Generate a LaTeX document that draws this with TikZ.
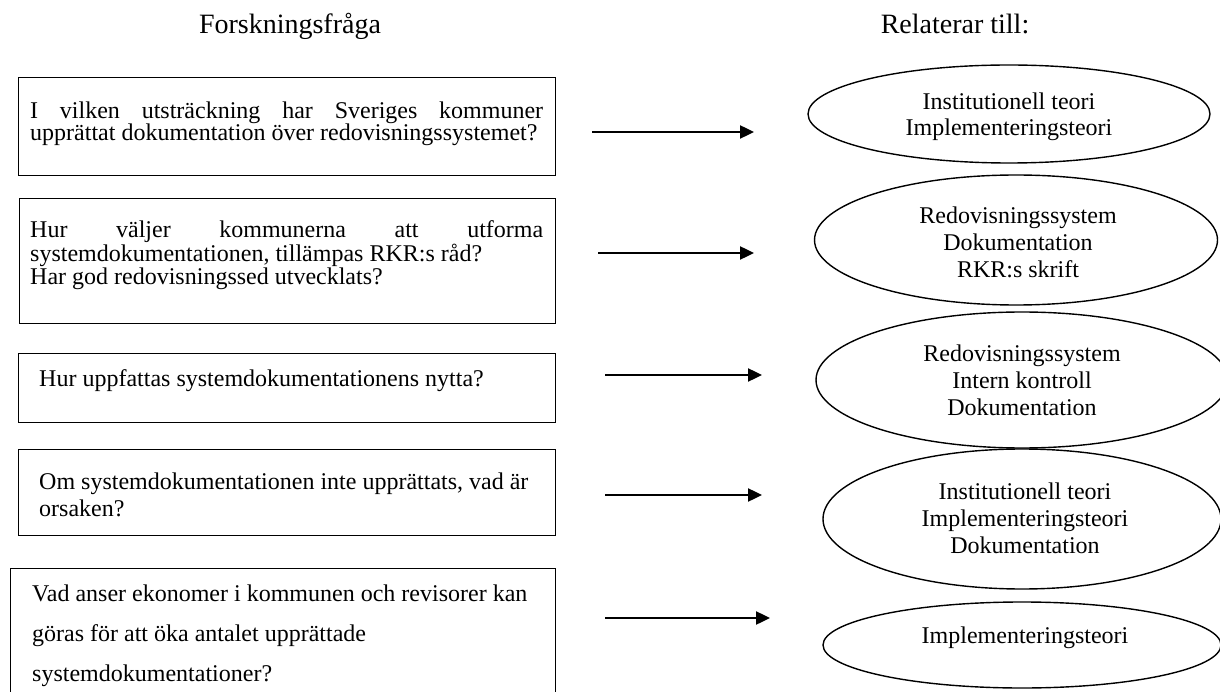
\documentclass[tikz,border=0pt]{standalone}
\usepackage{fontspec}
\setmainfont{Liberation Serif}
\usetikzlibrary{arrows.meta,shapes.geometric}

\tikzset{
  qbox/.style={draw, line width=1.4pt, anchor=north west, inner sep=0pt},
  relell/.style={draw, ellipse, line width=1.4pt, inner sep=0pt},
  btext/.style={anchor=base west, inner sep=0pt},
  etext/.style={anchor=base, inner sep=0pt},
  headtext/.style={anchor=base, inner sep=0pt, font=\fontsize{28}{32}\selectfont},
  relarrow/.style={line width=2.4pt, -{Triangle[length=14pt,width=13pt]}},
}
\newcommand{\bodyfont}[1]{\fontsize{24}{#1}\selectfont}

\begin{document}
\begin{tikzpicture}[x=1pt,y=-1pt]
\useasboundingbox (0,0) rectangle (1220,692);

% column headings
\node[headtext] (h1) at (290,34) {Forskningsfråga};
\node[headtext] (h2) at (955,34) {Relaterar till:};

% question boxes
\node[qbox, minimum width=537pt, minimum height=98pt]  (q1) at (18,77)  {};
\node[qbox, minimum width=536pt, minimum height=125pt] (q2) at (19,198) {};
\node[qbox, minimum width=537pt, minimum height=69pt]  (q3) at (18,353) {};
\node[qbox, minimum width=537pt, minimum height=86pt]  (q4) at (18,449) {};
\node[qbox, minimum width=545pt, minimum height=140pt] (q5) at (10,568) {};

\node[btext] (t1) at (30,119) {\bodyfont{22}\parbox[t]{513pt}{%
  \makebox[513pt][s]{I vilken utsträckning har Sveriges kommuner}\\
  upprättat dokumentation över redovisningssystemet?}};
\node[btext] (t2) at (30,238) {\bodyfont{21.5}\parbox[t]{513pt}{%
  \makebox[513pt][s]{Hur väljer kommunerna att utforma}\\
  systemdokumentationen, tillämpas RKR:s råd?\\
  Har god redovisningssed utvecklats?}};
\node[btext] (t3) at (39,386) {\bodyfont{22}Hur uppfattas systemdokumentationens nytta?};
\node[btext] (t4) at (39,489) {\bodyfont{27}\parbox[t]{510pt}{%
  Om systemdokumentationen inte upprättats, vad är\\
  orsaken?}};
\node[btext] (t5) at (32,601) {\bodyfont{40}\parbox[t]{520pt}{%
  Vad anser ekonomer i kommunen och revisorer kan\\
  göras för att öka antalet upprättade\\
  systemdokumentationer?}};

% related theory ellipses
\node[relell, minimum width=402pt, minimum height=98pt]  (r1) at (1009,114) {};
\node[relell, minimum width=403pt, minimum height=130pt] (r2) at (1016,240) {};
\node[relell, minimum width=412pt, minimum height=136pt] (r3) at (1022,380) {};
\node[relell, minimum width=398pt, minimum height=140pt] (r4) at (1022,519) {};
\node[relell, minimum width=398pt, minimum height=86pt]  (r5) at (1022,645) {};

\node[etext] (e1) at (1009,110) {\bodyfont{26}\parbox[t]{320pt}{\centering
  Institutionell teori\\Implementeringsteori}};
\node[etext] (e2) at (1018,224) {\bodyfont{27}\parbox[t]{320pt}{\centering
  Redovisningssystem\\Dokumentation\\RKR:s skrift}};
\node[etext] (e3) at (1022,361) {\bodyfont{27}\parbox[t]{320pt}{\centering
  Redovisningssystem\\Intern kontroll\\Dokumentation}};
\node[etext] (e4) at (1025,499) {\bodyfont{27}\parbox[t]{320pt}{\centering
  Institutionell teori\\Implementeringsteori\\Dokumentation}};
\node[etext] (e5) at (1025,643) {\bodyfont{26}Implementeringsteori};

% arrows from each question to its theories
\coordinate (a1s) at (592,132); \coordinate (a1e) at (754,132);
\coordinate (a2s) at (598,253); \coordinate (a2e) at (754,253);
\coordinate (a3s) at (605,375); \coordinate (a3e) at (762,375);
\coordinate (a4s) at (605,495); \coordinate (a4e) at (762,495);
\coordinate (a5s) at (605,618); \coordinate (a5e) at (770,618);
\draw[relarrow] (a1s) -- (a1e);
\draw[relarrow] (a2s) -- (a2e);
\draw[relarrow] (a3s) -- (a3e);
\draw[relarrow] (a4s) -- (a4e);
\draw[relarrow] (a5s) -- (a5e);
\end{tikzpicture}
\end{document}
